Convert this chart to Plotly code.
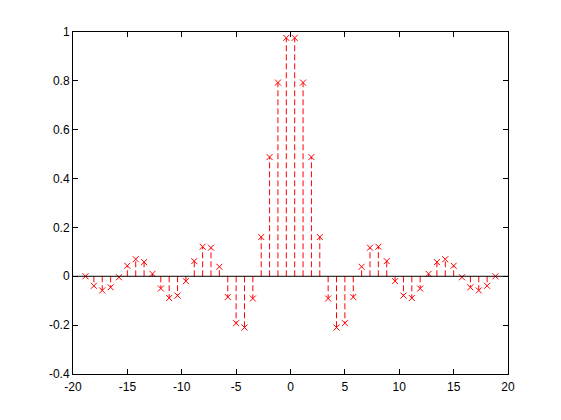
import plotly.graph_objects as go

# sample positions (50 evenly spaced samples from about -18.85 to 18.85)
x_vals = [-18.850, -18.080, -17.311, -16.542, -15.772, -15.003, -14.233, -13.464,
          -12.695, -11.925, -11.156, -10.387, -9.617, -8.848, -8.078, -7.309,
          -6.540, -5.770, -5.001, -4.232, -3.462, -2.693, -1.924, -1.154, -0.385,
          0.385, 1.154, 1.924, 2.693, 3.462, 4.232, 5.001, 5.770, 6.540, 7.309,
          8.078, 8.848, 9.617, 10.387, 11.156, 11.925, 12.695, 13.464, 14.233,
          15.003, 15.772, 16.542, 17.311, 18.080, 18.850]
y_half = [0.000, -0.039, -0.058, -0.045, -0.004, 0.043, 0.070, 0.058,
          0.010, -0.050, -0.089, -0.079, -0.020, 0.062, 0.121, 0.117,
          0.039, -0.085, -0.192, -0.210, -0.091, 0.161, 0.488, 0.793, 0.976]
y_vals = y_half + y_half[::-1]

x_ticks = [-20, -15, -10, -5, 0, 5, 10, 15, 20]
x_tick_labels = ["-20", "-15", "-10", "-5", "0", "5", "10", "15", "20"]
y_ticks = [-0.4, -0.2, 0, 0.2, 0.4, 0.6, 0.8, 1]
y_tick_labels = ["-0.4", "-0.2", "0", "0.2", "0.4", "0.6", "0.8", "1"]

stem_x, stem_y = [], []
for xv, yv in zip(x_vals, y_vals):
    stem_x += [xv, xv, None]
    stem_y += [0, yv, None]

fig = go.Figure()
fig.add_trace(go.Scatter(x=stem_x, y=stem_y, mode="lines",
                         line=dict(color="#ff0000", width=1, dash="6px,3px"),
                         hoverinfo="skip", showlegend=False))
fig.add_trace(go.Scatter(x=x_vals, y=y_vals, mode="markers",
                         marker=dict(symbol="x-thin", size=6, color="#ff0000",
                                     line=dict(color="#ff0000", width=1)),
                         showlegend=False))
fig.add_shape(type="line", xref="paper", yref="y", x0=0, x1=1, y0=0, y1=0,
              line=dict(color="black", width=1))

axis_common = dict(showline=True, linecolor="black", linewidth=1, mirror="ticks",
                   ticks="inside", ticklen=5, tickcolor="black", tickwidth=1,
                   showgrid=False, zeroline=False,
                   tickfont=dict(family="Liberation Sans, Arial, sans-serif", size=12, color="black"))

fig.update_layout(
    width=553, height=412,
    margin=dict(l=65, r=53, t=24, b=46),
    paper_bgcolor="white", plot_bgcolor="white",
    xaxis=dict(range=[-20, 20], tickvals=x_ticks, ticktext=x_tick_labels,
               ticklabelstandoff=2, **axis_common),
    yaxis=dict(range=[-0.4, 1], tickvals=y_ticks, ticktext=y_tick_labels, **axis_common),
)

fig.write_html("out.html")
